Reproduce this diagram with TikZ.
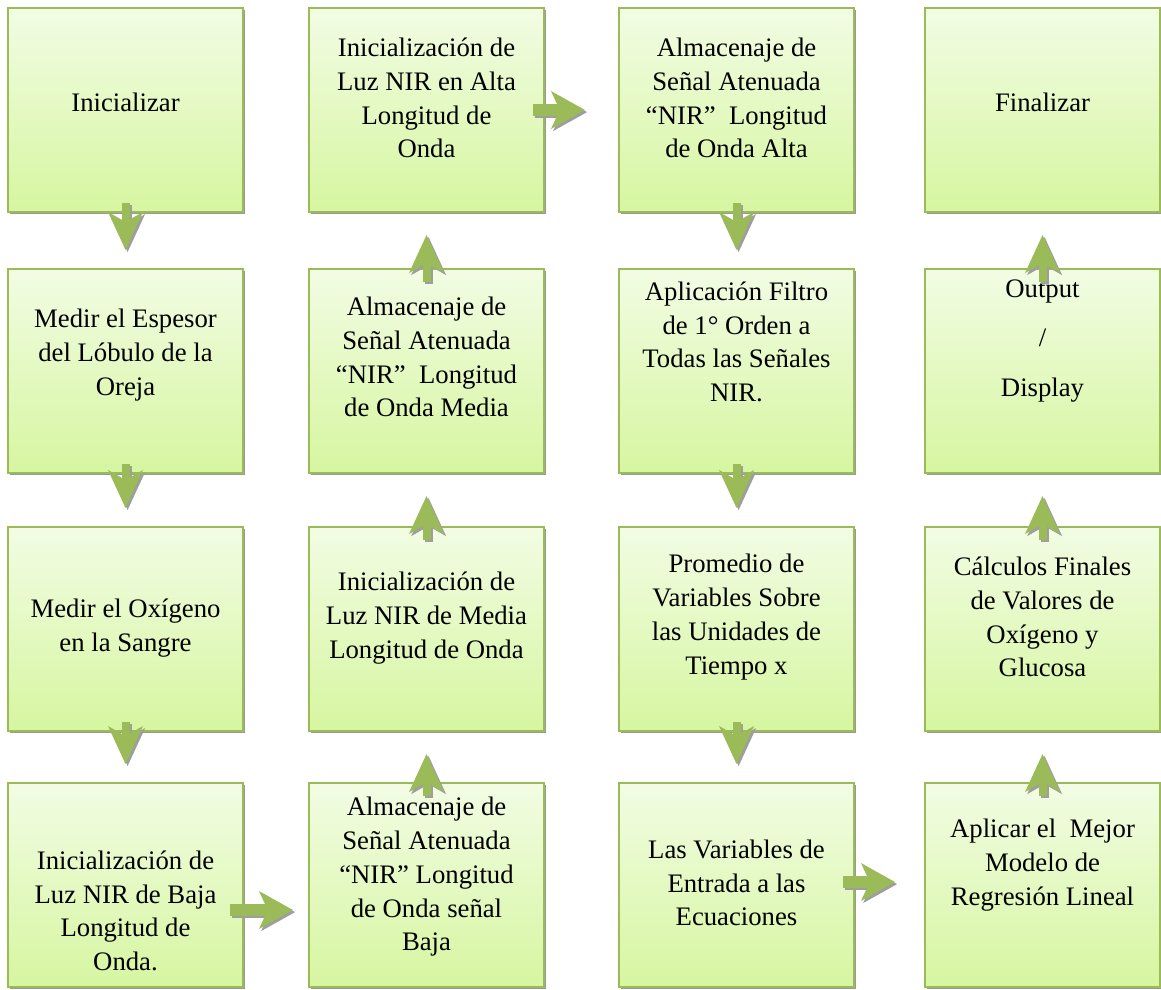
\documentclass[tikz,border=0pt]{standalone}
\usepackage{fontspec}
\setmainfont{Liberation Serif}
\usetikzlibrary{arrows.meta,shadows,calc}

\definecolor{boxline}{RGB}{155,187,89}
\definecolor{boxtop}{RGB}{242,252,228}
\definecolor{boxbot}{RGB}{214,246,160}
\definecolor{arrowgreen}{RGB}{155,187,89}

\tikzset{
  stepbox/.style={rectangle, draw=boxline, line width=1.3pt,
    top color=boxtop, bottom color=boxbot,
    minimum width=5.875cm, minimum height=5.1cm, inner sep=0pt, outer sep=0pt,
    drop shadow={shadow xshift=1.6pt, shadow yshift=-1.6pt, fill=black!40, opacity=1}},
  steptext/.style={align=center, font=\fontsize{19}{24}\selectfont, inner sep=0pt},
  flowline/.style={line width=0.2cm, arrowgreen,
    -{Stealth[length=0.95cm, width=0.875cm, inset=0.25cm, line width=0pt]}},
  flowwide/.style={line width=0.3cm,
    -{Stealth[length=0.85cm, width=0.95cm, inset=0.22cm, line width=0pt]}},
  flowshadow/.style={black!38, transform canvas={xshift=1.5pt, yshift=-1.5pt}},
  flowdown/.style={shorten <=-0.225cm, shorten >=0.475cm},
  flowup/.style={shorten <=-0.325cm, shorten >=0.575cm}
}

% block arrow with its grey shadow
\newcommand{\flowarrow}[3][]{%
  \draw[flowline, #1, flowshadow] (#2) -- (#3);
  \draw[flowline, #1] (#2) -- (#3);}

\begin{document}
\begin{tikzpicture}[x=0.025cm, y=-0.025cm]
  \useasboundingbox (0,0) rectangle (1161,990);

  % boxes, row by row
  \node[stepbox] (box11) at (125.5,110) {};
  \node[stepbox] (box12) at (426.5,110) {};
  \node[stepbox] (box13) at (736.5,110) {};
  \node[stepbox] (box14) at (1042.5,110) {};

  \node[stepbox] (box21) at (125.5,371) {};
  \node[stepbox] (box22) at (426.5,371) {};
  \node[stepbox] (box23) at (736.5,371) {};
  \node[stepbox] (box24) at (1042.5,371) {};

  \node[stepbox] (box31) at (125.5,629) {};
  \node[stepbox] (box32) at (426.5,629) {};
  \node[stepbox] (box33) at (736.5,629) {};
  \node[stepbox] (box34) at (1042.5,629) {};

  \node[stepbox] (box41) at (125.5,885) {};
  \node[stepbox] (box42) at (426.5,885) {};
  \node[stepbox] (box43) at (736.5,885) {};
  \node[stepbox] (box44) at (1042.5,885) {};

  % texts
  \node[steptext] (txt11) at (125.5,102) {Inicializar};
  \node[steptext] (txt21) at (125.5,355) {Medir el Espesor\\del Lóbulo de la\\Oreja};
  \node[steptext] (txt31) at (125.5,628) {Medir el Oxígeno\\en la Sangre};
  \node[steptext] (txt41) at (125.5,911) {Inicialización de\\Luz NIR de Baja\\Longitud de\\Onda.};

  \node[steptext] (txt12) at (426.5,98) {Inicialización de\\Luz NIR en Alta\\Longitud de\\Onda};
  \node[steptext] (txt22) at (426.5,357) {Almacenaje de\\Señal Atenuada\\“NIR”~ Longitud\\de Onda Media};
  \node[steptext] (txt32) at (426.5,618) {Inicialización de\\Luz NIR de Media\\Longitud de Onda};
  \node[steptext] (txt42) at (426.5,877) {Almacenaje de\\Señal Atenuada\\“NIR” Longitud\\de Onda señal\\Baja};

  \node[steptext] (txt13) at (736.5,98) {Almacenaje de\\Señal Atenuada\\“NIR”~ Longitud\\de Onda Alta};
  \node[steptext] (txt23) at (736.5,342) {Aplicación Filtro\\de 1° Orden a\\Todas las Señales\\NIR.};
  \node[steptext] (txt33) at (736.5,617) {Promedio de\\Variables Sobre\\las Unidades de\\Tiempo x};
  \node[steptext] (txt43) at (736.5,883) {Las Variables de\\Entrada a las\\Ecuaciones};

  \node[steptext] (txt14) at (1042.5,102) {Finalizar};
  \node[steptext] (txt24) at (1042.5,341) {Output\\[11pt]/\\[11pt]Display};
  \node[steptext] (txt34) at (1042.5,617) {Cálculos Finales\\de Valores de\\Oxígeno y\\Glucosa};
  \node[steptext] (txt44) at (1042.5,865) {Aplicar el~ Mejor\\Modelo de\\Regresión Lineal};

  % column 1, downwards
  \flowarrow[flowdown]{box11.south}{box21.north}
  \flowarrow[flowdown]{box21.south}{box31.north}
  \flowarrow[flowdown]{box31.south}{box41.north}
  \flowarrow[flowwide, shorten <=-0.325cm, shorten >=0.4cm]{$(box41.east)+(0,25)$}{$(box42.west)+(0,25)$}

  % column 2, upwards
  \flowarrow[flowup]{box42.north}{box32.south}
  \flowarrow[flowup]{box32.north}{box22.south}
  \flowarrow[flowup]{box22.north}{box12.south}
  \flowarrow[flowwide, shorten <=-0.275cm, shorten >=0.85cm]{box12.east}{box13.west}

  % column 3, downwards
  \flowarrow[flowdown]{box13.south}{box23.north}
  \flowarrow[flowdown]{box23.south}{box33.north}
  \flowarrow[flowdown]{box33.south}{box43.north}
  \flowarrow[flowwide, shorten <=-0.275cm, shorten >=0.75cm]{$(box43.east)+(0,-3)$}{$(box44.west)+(0,-3)$}

  % column 4, upwards
  \flowarrow[flowup]{box44.north}{box34.south}
  \flowarrow[flowup]{box34.north}{box24.south}
  \flowarrow[flowup]{box24.north}{box14.south}
\end{tikzpicture}
\end{document}
